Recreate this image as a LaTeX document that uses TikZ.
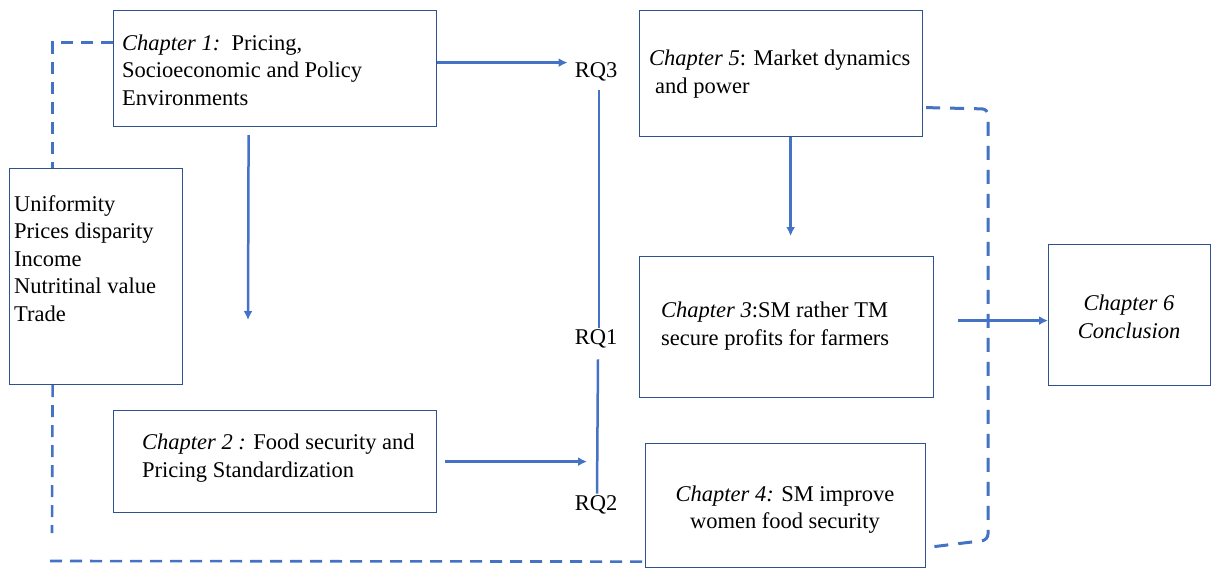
\documentclass[tikz,border=0pt]{standalone}
\usepackage{fontspec}
\setmainfont{Liberation Serif}
\usetikzlibrary{arrows.meta}
\definecolor{boxblue}{RGB}{47,82,143}
\definecolor{lineblue}{RGB}{68,114,196}
\begin{document}
\begin{tikzpicture}[x=1pt,y=-1pt,
  box/.style={draw=boxblue, line width=1.2pt, rectangle, inner sep=0pt, anchor=north west},
  txt/.style={inner sep=0pt, font=\fontsize{22.5}{27.5}\selectfont, text=black},
  rq/.style={inner sep=3pt, font=\fontsize{22.5}{27.5}\selectfont},
  ln/.style={draw=lineblue, line width=2.5pt},
  arr/.style={ln, -{Latex[length=9pt,width=9pt]}},
  dashA/.style={draw=lineblue, line width=2.6pt, dash pattern=on 12pt off 8pt},
  dashB/.style={draw=lineblue, line width=3pt, dash pattern=on 14pt off 10pt, rounded corners=6pt}]
\useasboundingbox (0,0) rectangle (1211,568);
% boxes
\node[box, minimum width=173pt, minimum height=216pt] (u) at (9,168) {};
\node[box, minimum width=323pt, minimum height=116pt] (c1) at (113,10) {};
\node[box, minimum width=323pt, minimum height=102pt] (c2) at (113,410) {};
\node[box, minimum width=283pt, minimum height=126pt] (c5) at (639,10) {};
\node[box, minimum width=294pt, minimum height=141pt] (c3) at (639,256) {};
\node[box, minimum width=280pt, minimum height=124pt] (c4) at (645,443) {};
\node[box, minimum width=162pt, minimum height=141pt] (c6) at (1048,244) {};
% texts
\node[txt, anchor=west, align=left] (ut) at (14,258.5) {Uniformity\\Prices disparity\\Income\\Nutritinal value\\Trade};
\node[txt, anchor=west, align=left] (c1t) at (122,70) {\textit{Chapter 1:}\ \ Pricing,\\Socioeconomic and Policy\\Environments};
\node[txt, anchor=west, align=left] (c2t) at (142,458) {\textit{Chapter 2 :} Food security and\\Pricing Standardization};
\node[txt, anchor=west, align=left] (c5t) at (649,74) {\textit{Chapter 5}: Market dynamics\\\hspace{6pt}and power};
\node[txt, anchor=west, align=left] (c3t) at (661,326) {\textit{Chapter 3}:SM rather TM\\secure profits for farmers};
\node[txt, align=center] (c4t) at (785,509.5) {\textit{Chapter 4:} SM improve\\women food security};
\node[txt, align=center, font=\fontsize{22.5}{27.5}\selectfont\itshape] (c6t) at (1129,317) {Chapter 6\\Conclusion};
% RQ labels
\node[rq] (rq3) at (596,72) {RQ3};
\node[rq] (rq1) at (596,339) {RQ1};
\node[rq] (rq2) at (596,505) {RQ2};
% free ends
\coordinate (downend) at (248,320);
\coordinate (ubotend) at (52,533);
% connectors
\draw[arr] ([yshift=6pt]c1.east) -- ([yshift=6pt,xshift=-4pt]c1.east -| rq3.west);
\draw[ln] ([xshift=3pt,yshift=-6pt]rq3.south) -- ([xshift=3pt,yshift=-1pt]rq1.north);
\draw[ln] ([xshift=2pt,yshift=-8pt]rq1.south) -- ([xshift=1pt,yshift=-1pt]rq2.north);
\draw[arr] ([xshift=8pt]c2.east) -- ([xshift=-9pt]c2.east -| rq2.center);
\draw[arr] ([xshift=-26.5pt,yshift=-8pt]c1.south) -- (downend);
\draw[arr, shorten >=20pt] ([xshift=9.5pt]c5.south) -- ([xshift=9.5pt]c5.south |- c3.north);
\draw[arr, shorten <=24pt] ([yshift=6.5pt]c3.east) -- ([yshift=6.5pt]c3.east -| c6.west);
% dashed connectors
\draw[dashA] ([yshift=26pt]c1.west) -| ([xshift=-43.5pt]u.north);
\draw[dashA] ([xshift=-43.5pt]u.south) -- (ubotend);
\draw[dashA] (50,561) -- ([yshift=-56pt]c4.west);
\draw[dashB] ([yshift=-34pt,xshift=3pt]c5.east) -- (988,109) -- (988,540) -- ([xshift=8pt,yshift=-41pt]c4.east);
\end{tikzpicture}
\end{document}
